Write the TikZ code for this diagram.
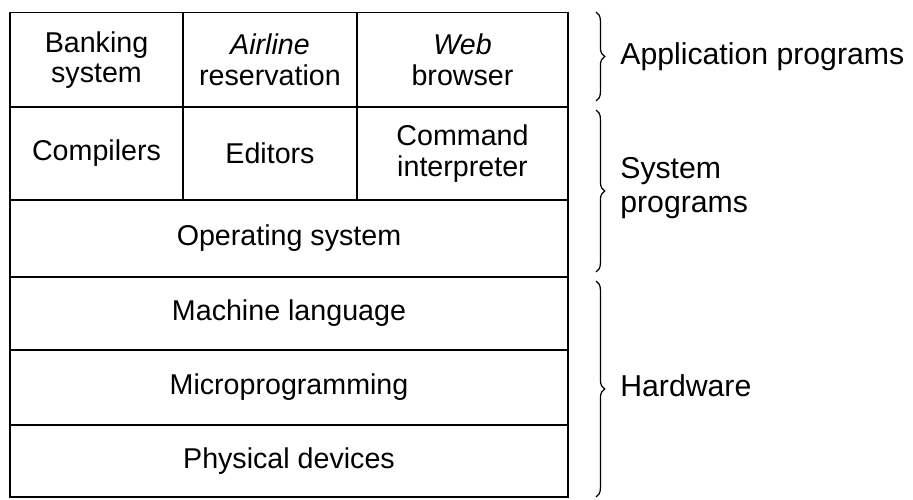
\documentclass[tikz,border=0pt]{standalone}
\usepackage{fontspec}
\setmainfont{Liberation Sans}
\usepackage{tikz}
\usetikzlibrary{decorations.pathreplacing}

\begin{document}
\begin{tikzpicture}[x=0.02cm, y=-0.02cm,
    cell/.style={draw, line width=1.1pt, inner sep=0pt, outer sep=0pt,
                 align=center, font=\fontsize{16.3}{17.5}\selectfont},
    brc/.style={decorate, decoration={brace, amplitude=5pt}, line width=0.7pt},
    tag/.style={anchor=west, align=left, inner sep=0pt,
                font=\fontsize{17.2}{19.5}\selectfont}
]
    \useasboundingbox (0,0) rectangle (913,500);

    % top row: application programs
    \node[cell, minimum width=3.46cm, minimum height=1.9cm] (bank) at (96.5,60) {Banking\\system};
    \node[cell, minimum width=3.48cm, minimum height=1.9cm] (air)  at (270,60)  {\textit{Airline}\\reservation};
    \node[cell, minimum width=4.22cm, minimum height=1.9cm] (web)  at (462.5,60) {\textit{Web}\\browser};

    % second row: system programs
    \node[cell, minimum width=3.46cm, minimum height=1.86cm] (comp) at (96.5,153.5) {Compilers};
    \node[cell, minimum width=3.48cm, minimum height=1.86cm] (edit) at (270,153.5)  {Editors};
    \node[cell, minimum width=4.22cm, minimum height=1.86cm] (cmd)  at (462.5,153.5) {Command\\interpreter};

    % full-width layers
    \node[cell, minimum width=11.16cm, minimum height=1.54cm] (os)    at (289,238.5) {Operating system};
    \node[cell, minimum width=11.16cm, minimum height=1.46cm] (mlang) at (289,313.5) {Machine language};
    \node[cell, minimum width=11.16cm, minimum height=1.5cm]  (micro) at (289,387.5) {Microprogramming};
    \node[cell, minimum width=11.16cm, minimum height=1.44cm] (phys)  at (289,461)   {Physical devices};

    % brace ends
    \coordinate (appA) at (596,12);
    \coordinate (appB) at (596,101);
    \coordinate (sysA) at (596,110);
    \coordinate (sysB) at (596,272);
    \coordinate (hwA)  at (596,281);
    \coordinate (hwB)  at (596,497);

    \draw[brc] (appA) -- (appB);
    \draw[brc] (sysA) -- (sysB);
    \draw[brc] (hwA) -- (hwB);

    \node[tag] (app) at (620,57)  {Application programs};
    \node[tag] (sys) at (620,188) {System\\programs};
    \node[tag] (hw)  at (620,386) {Hardware};
\end{tikzpicture}
\end{document}
